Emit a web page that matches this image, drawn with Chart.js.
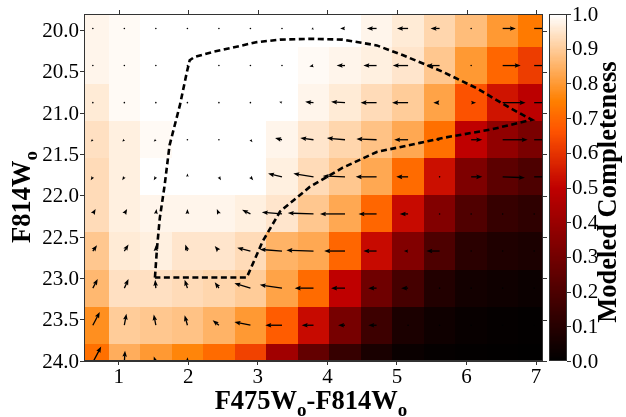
<!DOCTYPE html>
<html>
<head>
<title>Modeled Completeness</title>
<script src="https://cdn.jsdelivr.net/npm/chart.js"></script>
<style>
  body { margin: 0; background: #fff; }
</style>
</head>
<body>
<canvas id="cmdChart" width="626" height="417"></canvas>
<script>
// bin centres of the completeness grid
var colorCenters = [0.627, 1.080, 1.533, 1.987, 2.440, 2.893, 3.347, 3.800, 4.253, 4.707, 5.160, 5.613, 6.067, 6.520, 6.973];
var magCenters = [19.975, 20.424, 20.873, 21.322, 21.771, 22.220, 22.669, 23.118, 23.567, 24.016];
var binWidth = 0.4533;
var binHeight = 0.449;

// modeled completeness, one row per magnitude bin (bright to faint)
var completeness = [
  [0.98, 0.99, 1.00, 1.00, 1.00, 1.00, 1.00, 1.00, 1.00, 0.98, 0.96, 0.92, 0.87, 0.80, 0.74],
  [0.98, 0.99, 1.00, 1.00, 1.00, 1.00, 1.00, 0.99, 0.98, 0.97, 0.95, 0.89, 0.80, 0.70, 0.62],
  [0.96, 0.99, 1.00, 1.00, 1.00, 1.00, 1.00, 0.98, 0.96, 0.93, 0.90, 0.82, 0.66, 0.54, 0.49],
  [0.94, 0.97, 0.99, 1.00, 1.00, 1.00, 0.98, 0.95, 0.92, 0.88, 0.83, 0.72, 0.50, 0.38, 0.32],
  [0.93, 0.97, 1.00, 1.00, 1.00, 1.00, 0.97, 0.93, 0.89, 0.83, 0.71, 0.53, 0.33, 0.24, 0.20],
  [0.93, 0.97, 0.98, 0.98, 0.98, 0.97, 0.95, 0.89, 0.83, 0.70, 0.52, 0.34, 0.21, 0.14, 0.12],
  [0.89, 0.96, 0.97, 0.95, 0.95, 0.93, 0.85, 0.83, 0.70, 0.52, 0.34, 0.20, 0.11, 0.08, 0.07],
  [0.86, 0.94, 0.94, 0.93, 0.92, 0.90, 0.82, 0.71, 0.50, 0.29, 0.18, 0.09, 0.05, 0.04, 0.03],
  [0.78, 0.90, 0.89, 0.88, 0.85, 0.80, 0.68, 0.52, 0.31, 0.16, 0.07, 0.04, 0.02, 0.013, 0.008],
  [0.72, 0.84, 0.80, 0.76, 0.71, 0.63, 0.42, 0.26, 0.14, 0.065, 0.026, 0.013, 0.008, 0.004, 0.002]
];

// mean shift per bin (colour and magnitude components)
var shiftColor = [
  [0, 0, 0, 0, 0, 0, 0.01, -0.03, -0.07, -0.14, -0.16, -0.13, 0, 0.19, 0.23],
  [0, 0, 0, 0, 0, 0, 0.01, -0.06, -0.12, -0.19, -0.22, -0.19, 0, 0.26, 0.26],
  [0, 0, 0, 0, 0, 0.01, -0.04, -0.12, -0.20, -0.23, -0.23, -0.09, 0.07, 0.33, 0.28],
  [-0.03, -0.03, -0.03, 0, 0, 0.03, -0.10, -0.19, -0.26, -0.29, -0.20, -0.06, 0.16, 0.36, 0.28],
  [-0.03, -0.03, -0.03, 0, 0.03, 0.04, -0.20, -0.29, -0.32, -0.30, -0.17, 0, 0.16, 0.32, 0.28],
  [0.04, 0.04, 0.01, 0, -0.03, -0.12, -0.29, -0.37, -0.36, -0.26, -0.12, 0, 0, 0, 0],
  [0.06, 0.06, 0, -0.03, -0.06, -0.19, -0.32, -0.39, -0.30, -0.19, -0.06, -0.19, 0, 0, 0],
  [0.07, 0.06, -0.01, -0.04, -0.06, -0.23, -0.32, -0.27, -0.20, -0.12, -0.10, 0, 0, 0, 0],
  [0.10, 0.03, -0.03, -0.04, -0.09, -0.23, -0.24, -0.17, -0.10, -0.12, 0, 0, 0, 0, 0],
  [0.12, 0.01, -0.03, 0, -0.04, 0, 0, 0, 0, 0, 0, 0, 0, 0, 0]
];
var shiftMag = [
  [0, 0, 0, 0, 0, 0, 0, 0.01, 0, 0, 0, 0, 0, 0, 0],
  [0, 0, 0, 0, 0, 0, 0.01, 0.01, 0, 0, 0, 0, 0, 0, 0],
  [0, 0, 0, 0, 0, 0.01, -0.01, -0.01, -0.01, 0, 0, 0, 0, 0, 0],
  [0.02, 0.02, 0.02, 0, 0, 0.03, -0.02, -0.02, -0.02, -0.01, 0, 0, 0, 0, 0],
  [0.04, 0.04, 0.04, -0.04, 0.04, 0.04, -0.04, -0.04, -0.01, 0, 0, 0, 0, 0.01, 0],
  [-0.06, -0.06, -0.06, -0.06, -0.06, -0.05, -0.02, -0.01, 0, 0, 0, 0, 0, 0, 0],
  [-0.07, -0.08, -0.07, -0.08, -0.06, -0.04, -0.02, -0.01, 0, 0, 0, 0, 0, 0, 0],
  [-0.11, -0.11, -0.10, -0.10, -0.07, -0.06, -0.04, 0, 0, 0, 0, 0, 0, 0, 0],
  [-0.16, -0.14, -0.13, -0.12, -0.06, -0.04, 0, 0, 0, 0, 0, 0, 0, 0, 0],
  [-0.19, -0.14, -0.07, -0.06, -0.02, 0, 0, 0, 0, 0, 0, 0, 0, 0, 0]
];

// selection box (dashed outline)
var boxColor = [1.52, 1.55, 1.59, 1.66, 1.73, 1.88, 1.98, 2.02, 2.09, 2.35, 2.99, 3.32, 3.75, 4.22, 4.71, 5.09, 5.66, 6.15, 6.63, 6.94,
                6.34, 5.66, 5.33, 4.71, 4.22, 3.75, 3.32, 3.07, 2.84, 1.52];
var boxMag = [22.99, 22.63, 22.27, 21.87, 21.39, 20.90, 20.50, 20.36, 20.32, 20.26, 20.14, 20.11, 20.10, 20.11, 20.18, 20.30, 20.50, 20.70, 20.94, 21.08,
              21.20, 21.30, 21.36, 21.47, 21.66, 21.89, 22.19, 22.55, 22.99, 22.99];

var xTicks = [1, 2, 3, 4, 5, 6, 7];
var yTicks = [20.0, 20.5, 21.0, 21.5, 22.0, 22.5, 23.0, 23.5, 24.0];
var cbTicks = [0, 0.1, 0.2, 0.3, 0.4, 0.5, 0.6, 0.7, 0.8, 0.9, 1.0];

var serif = "'Liberation Serif', 'Times New Roman', serif";
var tickFontStr = '21px ' + serif;

// gist_heat colour map
function heat(v) {
  var r = Math.min(1, 1.5 * v);
  var g = Math.max(0, Math.min(1, 2 * v - 1));
  var b = Math.max(0, Math.min(1, 4 * v - 3));
  return 'rgb(' + Math.round(r * 255) + ',' + Math.round(g * 255) + ',' + Math.round(b * 255) + ')';
}

function drawArrow(ctx, x0, y0, x1, y1) {
  var dx = x1 - x0, dy = y1 - y0, len = Math.sqrt(dx * dx + dy * dy);
  if (len < 1.2) {
    ctx.beginPath();
    ctx.arc(x0, y0, 0.8, 0, 2 * Math.PI);
    ctx.fill();
    return;
  }
  var ux = dx / len, uy = dy / len, nx = -uy, ny = ux;
  var hl = Math.min(6, len);
  var hw = Math.max(1.2, 2.3 * Math.min(1, len / 6));
  if (len > hl + 0.5) {
    ctx.beginPath();
    ctx.moveTo(x0, y0);
    ctx.lineTo(x1 - ux * hl * 0.8, y1 - uy * hl * 0.8);
    ctx.stroke();
  }
  ctx.beginPath();
  ctx.moveTo(x1, y1);
  ctx.lineTo(x1 - ux * hl + nx * hw, y1 - uy * hl + ny * hw);
  ctx.lineTo(x1 - ux * hl * 0.85, y1 - uy * hl * 0.85);
  ctx.lineTo(x1 - ux * hl - nx * hw, y1 - uy * hl - ny * hw);
  ctx.closePath();
  ctx.fill();
}

// text with a bold subscript "o"
function subText(ctx, parts, x, y, align) {
  var big = 'bold 26.5px ' + serif, small = 'bold 19px ' + serif;
  var total = 0;
  parts.forEach(function (p) { ctx.font = p[1] ? small : big; total += ctx.measureText(p[0]).width; });
  var cx = align === 'center' ? x - total / 2 : x;
  ctx.textAlign = 'left';
  ctx.textBaseline = 'alphabetic';
  parts.forEach(function (p) {
    ctx.font = p[1] ? small : big;
    ctx.fillText(p[0], cx, p[1] ? y + 6.7 : y);
    cx += ctx.measureText(p[0]).width;
  });
}

var gridPlugin = {
  id: 'completenessGrid',
  beforeDatasetsDraw: function (chart) {
    var ctx = chart.ctx, xs = chart.scales.x, ys = chart.scales.y, a = chart.chartArea;
    ctx.save();
    ctx.beginPath();
    ctx.rect(a.left, a.top, a.right - a.left, a.bottom - a.top);
    ctx.clip();
    for (var r = 0; r < magCenters.length; r++) {
      for (var c = 0; c < colorCenters.length; c++) {
        var x0 = Math.round(xs.getPixelForValue(colorCenters[c] - binWidth / 2));
        var x1 = Math.round(xs.getPixelForValue(colorCenters[c] + binWidth / 2));
        var y0 = Math.round(ys.getPixelForValue(magCenters[r] - binHeight / 2));
        var y1 = Math.round(ys.getPixelForValue(magCenters[r] + binHeight / 2));
        ctx.fillStyle = heat(completeness[r][c]);
        ctx.fillRect(Math.min(x0, x1), Math.min(y0, y1), Math.abs(x1 - x0), Math.abs(y1 - y0));
      }
    }
    ctx.fillStyle = '#000';
    ctx.strokeStyle = '#000';
    ctx.lineWidth = 1.3;
    for (r = 0; r < magCenters.length; r++) {
      for (c = 0; c < colorCenters.length; c++) {
        var px = xs.getPixelForValue(colorCenters[c]);
        var py = ys.getPixelForValue(magCenters[r]);
        var ex = xs.getPixelForValue(colorCenters[c] + shiftColor[r][c]);
        var ey = ys.getPixelForValue(magCenters[r] + shiftMag[r][c]);
        drawArrow(ctx, px, py, ex, ey);
      }
    }
    ctx.restore();
  },
  afterDatasetsDraw: function (chart) {
    var ctx = chart.ctx, xs = chart.scales.x, ys = chart.scales.y, a = chart.chartArea;
    ctx.save();
    ctx.strokeStyle = '#333';
    ctx.lineWidth = 1;
    ctx.strokeRect(a.left + 0.5, a.top + 0.5, a.right - a.left - 1, a.bottom - a.top - 1);
    ctx.beginPath();
    xTicks.forEach(function (v) {
      var p = Math.round(xs.getPixelForValue(v)) + 0.5;
      ctx.moveTo(p, a.top); ctx.lineTo(p, a.top - 4);
    });
    yTicks.forEach(function (v) {
      var p = Math.round(ys.getPixelForValue(v)) + 0.5;
      ctx.moveTo(a.right, p); ctx.lineTo(a.right + 4, p);
    });
    ctx.stroke();

    // tick labels
    ctx.fillStyle = '#000';
    ctx.font = tickFontStr;
    ctx.textAlign = 'center';
    ctx.textBaseline = 'alphabetic';
    xTicks.forEach(function (v) {
      ctx.fillText(String(v), xs.getPixelForValue(v), a.bottom + 21.5);
    });
    ctx.textAlign = 'right';
    ctx.textBaseline = 'middle';
    yTicks.forEach(function (v) {
      ctx.fillText(v.toFixed(1), a.left - 5, ys.getPixelForValue(v) + 1);
    });
    ctx.restore();
  },
  afterDraw: function (chart) {
    var ctx = chart.ctx, cb = chart.scales.cb, a = chart.chartArea;
    var bx = cb.left + 6, bw = 18;
    ctx.save();
    var n = 300;
    for (var i = 0; i < n; i++) {
      var v0 = i / n, v1 = (i + 1) / n;
      var ya = cb.getPixelForValue(v0), yb = cb.getPixelForValue(v1);
      ctx.fillStyle = heat((v0 + v1) / 2);
      ctx.fillRect(bx, Math.floor(yb), bw, Math.ceil(ya) - Math.floor(yb));
    }
    ctx.strokeStyle = '#333';
    ctx.lineWidth = 1;
    ctx.strokeRect(bx + 0.5, a.top + 0.5, bw - 1, a.bottom - a.top - 1);
    ctx.beginPath();
    cbTicks.forEach(function (v) {
      var p = Math.round(cb.getPixelForValue(v)) + 0.5;
      ctx.moveTo(bx + bw, p); ctx.lineTo(bx + bw + 4, p);
    });
    ctx.stroke();

    ctx.fillStyle = '#000';
    ctx.font = tickFontStr;
    ctx.textAlign = 'left';
    ctx.textBaseline = 'middle';
    cbTicks.forEach(function (v) {
      ctx.fillText(v.toFixed(1), bx + bw + 5, cb.getPixelForValue(v) + 1);
    });

    // x-axis title
    subText(ctx, [['F475W', false], ['o', true], ['-F814W', false], ['o', true]], 311, 409.3, 'center');
    // y-axis title
    ctx.save();
    ctx.translate(30, 197);
    ctx.rotate(-Math.PI / 2);
    subText(ctx, [['F814W', false], ['o', true]], 0, 0, 'center');
    ctx.restore();
    // colour bar title
    ctx.save();
    ctx.translate(616, 192);
    ctx.rotate(-Math.PI / 2);
    ctx.font = 'bold 26.5px ' + serif;
    ctx.textAlign = 'center';
    ctx.textBaseline = 'alphabetic';
    ctx.fillText('Modeled Completeness', 0, 0);
    ctx.restore();
    ctx.restore();
  }
};

function fixedTicks(list) {
  return function (scale) {
    scale.ticks = list.map(function (v) { return { value: v }; });
  };
}

function noPadding(s) {
  s.paddingTop = 0;
  s.paddingBottom = 0;
  s.paddingLeft = 0;
  s.paddingRight = 0;
}

var ctx = document.getElementById('cmdChart').getContext('2d');
var cmdChart = new Chart(ctx, {
  type: 'scatter',
  data: {
    datasets: [{
      label: 'selection',
      data: boxColor.map(function (x, i) { return { x: x, y: boxMag[i] }; }),
      showLine: true,
      borderColor: '#000',
      borderWidth: 2.6,
      borderDash: [6, 3.5],
      pointRadius: 0,
      fill: false,
      tension: 0
    }]
  },
  options: {
    responsive: false,
    devicePixelRatio: 1,
    animation: false,
    layout: { padding: { top: 14, left: 0, right: 0, bottom: 0 } },
    plugins: { legend: { display: false }, tooltip: { enabled: false } },
    scales: {
      x: {
        type: 'linear',
        min: 0.5,
        max: 7.1,
        afterBuildTicks: fixedTicks(xTicks),
        afterFit: function (s) { s.height = 56; noPadding(s); },
        grid: { display: true, drawOnChartArea: false, tickLength: 4, color: '#333' },
        border: { display: true, color: '#333' },
        ticks: { display: false }
      },
      y: {
        type: 'linear',
        reverse: true,
        min: 19.8,
        max: 24.0,
        afterBuildTicks: fixedTicks(yTicks),
        afterFit: function (s) { s.width = 84; noPadding(s); },
        grid: { display: true, drawOnChartArea: false, tickLength: 4, color: '#333' },
        border: { display: true, color: '#333' },
        ticks: { display: false }
      },
      cb: {
        type: 'linear',
        position: 'right',
        min: 0,
        max: 1,
        afterBuildTicks: fixedTicks(cbTicks),
        afterFit: function (s) { s.width = 83; noPadding(s); },
        grid: { display: false, drawTicks: false },
        border: { display: false },
        ticks: { display: false }
      }
    }
  },
  plugins: [gridPlugin]
});
</script>
</body>
</html>
